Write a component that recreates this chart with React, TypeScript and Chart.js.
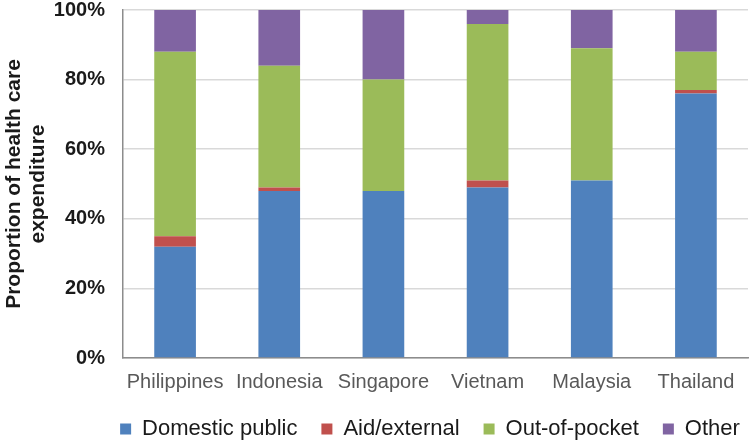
import React, { useEffect, useRef } from "react";
import { Chart, registerables } from "chart.js";

Chart.register(...registerables);

const categories = ["Philippines", "Indonesia", "Singapore", "Vietnam", "Malaysia", "Thailand"];
const domesticPublic = [32, 48, 48, 49, 51, 76];
const aidExternal = [3, 1, 0, 2, 0, 1];
const outOfPocket = [53, 35, 32, 45, 38, 11];
const other = [12, 16, 20, 4, 11, 12];
const seriesNames = ["Domestic public", "Aid/external", "Out-of-pocket", "Other"];
const seriesColors = ["#4f81bd", "#c0504d", "#9bbb59", "#8064a2"];
const yTicks = [0, 20, 40, 60, 80, 100];

const legendShift = {
  id: "legendShift",
  afterLayout(chart: any) {
    const l = chart.legend;
    if (l) {
      l.left += 55;
      l.right += 55;
    }
  },
};

export default function App() {
  const ref = useRef<HTMLCanvasElement | null>(null);
  useEffect(() => {
    document.body.style.margin = "0";
    const ctx = ref.current;
    if (!ctx) return;
    const values = [domesticPublic, aidExternal, outOfPocket, other];
    const chart = new Chart(ctx, {
      type: "bar",
      data: {
        labels: categories,
        datasets: values.map((v, i) => ({
          label: seriesNames[i],
          data: v,
          backgroundColor: seriesColors[i],
          borderWidth: 0,
          barPercentage: 0.4,
          categoryPercentage: 1,
        })),
      },
      plugins: [legendShift],
      options: {
        animation: false,
        responsive: false,
        maintainAspectRatio: false,
        layout: { padding: { top: 0, right: 2, left: 2, bottom: 0 } },
        plugins: {
          tooltip: { enabled: false },
          legend: {
            position: "bottom",
            maxHeight: 49,
            labels: {
              boxWidth: 11,
              boxHeight: 11,
              padding: 24,
              color: "#1a1a1a",
              font: { family: "Liberation Sans, Arial, sans-serif", size: 22 },
            },
          },
        },
        scales: {
          x: {
            stacked: true,
            afterFit: (axis: any) => {
              axis.height = 36;
            },
            grid: { display: false, drawTicks: false },
            border: { color: "#8c8c8c", width: 1.5 },
            ticks: {
              color: "#595959",
              padding: 12,
              maxRotation: 0,
              minRotation: 0,
              autoSkip: false,
              font: { family: "Liberation Sans, Arial, sans-serif", size: 20 },
            },
          },
          y: {
            stacked: true,
            min: 0,
            max: 100,
            afterBuildTicks: (axis: any) => {
              axis.ticks = yTicks.map((v) => ({ value: v }));
            },
            afterFit: (axis: any) => {
              axis.paddingTop = 10;
              axis.paddingBottom = 10;
              axis.width = 121;
            },
            grid: { color: "#d9d9d9", lineWidth: 1.5, drawTicks: false },
            border: { color: "#8c8c8c", width: 1.5 },
            ticks: {
              color: "#1a1a1a",
              padding: 18,
              callback: (v: any) => v + "%",
              font: { family: "Liberation Sans, Arial, sans-serif", size: 20, weight: "bold" },
            },
            title: {
              display: true,
              text: ["Proportion of health care", "expenditure"],
              color: "#1a1a1a",
              padding: { top: 0, bottom: 2 },
              font: { family: "Liberation Sans, Arial, sans-serif", size: 21, weight: "bold", lineHeight: 1.15 },
            },
          },
        },
      },
    });
    return () => chart.destroy();
  }, []);
  return (
    <div style={{ width: 750, height: 443 }}>
      <canvas ref={ref} width={750} height={443} />
    </div>
  );
}
